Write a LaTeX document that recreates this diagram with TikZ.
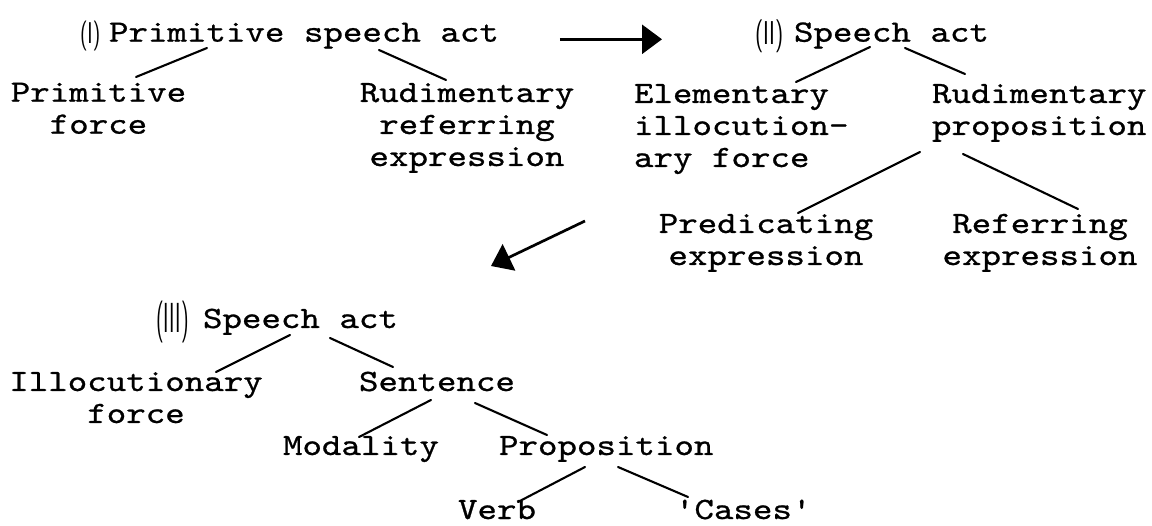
\documentclass[tikz,border=0pt]{standalone}
\usepackage{fontspec}
\usepackage{graphicx}
\newfontfamily\typewriter{lmmono10-regular.otf}[FakeStretch=1.198,FakeBold=0.8]
\usetikzlibrary{arrows.meta,calc}

% stacked lines of a tree label; the baseline is that of the first line
\newcommand\lns[2][c]{\begin{tabular}[t]{@{}#1@{}}#2\end{tabular}}

\begin{document}
\begin{tikzpicture}[x=1pt,y=-1pt,
  txt/.style={font=\typewriter\fontsize{31}{32}\selectfont, inner sep=0pt, outer sep=0pt, text=black},
  numeral/.style={font=\sffamily, inner sep=0pt, outer sep=0pt, text=black},
  conn/.style={line width=2.1pt, line cap=round, black},
  stagearrow/.style={line width=2.7pt, black, -{Triangle[length=20pt,width=29pt]}}]

\fill[white] (0,0) rectangle (1152,526);
\useasboundingbox (0,0) rectangle (1152,526);

% ---- stage (I) ----
\node[numeral, anchor=base west] (rI) at (80,44) {\fontsize{30}{30}\selectfont\scalebox{0.68}[1]{(I)}};
\node[txt, anchor=base west] (hI) at (109,41.7) {Primitive speech act};
\node[txt, anchor=base] (pf) at (98.5,101.7) {\lns{Primitive\\force}};
\node[txt, anchor=base] (rre) at (467,102) {\lns{Rudimentary\\referring\\expression}};

\draw[conn] ($(hI.base west)+(98,6.3)$) -- ($(pf.base)+(37.5,-24.7)$);
\draw[conn] ($(hI.base west)+(270,8.3)$) -- ($(rre.base)+(-21,-22)$);

% ---- stage (II) ----
\node[numeral, anchor=base west] (rII) at (755,45) {\fontsize{33}{33}\selectfont\scalebox{0.68}[1]{(II)}};
\node[txt, anchor=base west] (hII) at (794,41.7) {Speech act};
\node[txt, anchor=base west] (eif) at (634,103) {\lns[l]{Elementary\\illocution-\\ary force}};
\node[txt, anchor=base west] (rp) at (932,103) {\lns[l]{Rudimentary\\proposition}};
\node[txt, anchor=base] (pe) at (766,233) {\lns{Predicating\\expression}};
\node[txt, anchor=base] (re) at (1040,233) {\lns{Referring\\expression}};

\draw[conn] ($(hII.base west)+(76,5.3)$) -- ($(eif.base west)+(162,-21)$);
\draw[conn] ($(hII.base west)+(111,6.3)$) -- ($(rp.base west)+(33,-29)$);
\draw[conn] ($(rp.base west)+(-12,49)$) -- ($(pe.base)+(32,-20)$);
\draw[conn] ($(rp.base west)+(31,51)$) -- ($(re.base)+(38,-24)$);

% ---- stage (III) ----
\node[numeral, anchor=base west] (rIII) at (156,332.5) {\fontsize{42}{42}\selectfont\scalebox{0.5}[1]{(III)}};
\node[txt, anchor=base west] (hIII) at (203,328) {Speech act};
\node[txt, anchor=base] (ifc) at (136,391) {\lns{Illocutionary\\force}};
\node[txt, anchor=base west] (sen) at (359,391) {Sentence};
\node[txt, anchor=base west] (mod) at (283,455) {Modality};
\node[txt, anchor=base west] (prop) at (499,455) {Proposition};
\node[txt, anchor=base west] (verb) at (458,519) {Verb};
\node[txt, anchor=base west] (cases) at (675,519) {'Cases'};

\draw[conn] ($(hIII.base west)+(87,7)$) -- ($(ifc.base)+(80,-19)$);
\draw[conn] ($(hIII.base west)+(127,10)$) -- ($(sen.base west)+(34,-24)$);
\draw[conn] ($(sen.base west)+(72,9)$) -- ($(mod.base west)+(76,-18)$);
\draw[conn] ($(sen.base west)+(116,12)$) -- ($(prop.base west)+(48,-20)$);
\draw[conn] ($(prop.base west)+(86,12)$) -- ($(verb.base west)+(60,-17)$);
\draw[conn] ($(prop.base west)+(119,12)$) -- ($(cases.base west)+(13,-22)$);

% ---- transitions between the stages ----
\draw[stagearrow] ($(hI.base east)+(61,-2.4)$) -- ($(rII.base west)+(-93,-5.7)$);
\coordinate (dFrom) at (585,221);
\coordinate (dTo) at (491,266);
\draw[stagearrow] (dFrom) -- (dTo);

\end{tikzpicture}
\end{document}
